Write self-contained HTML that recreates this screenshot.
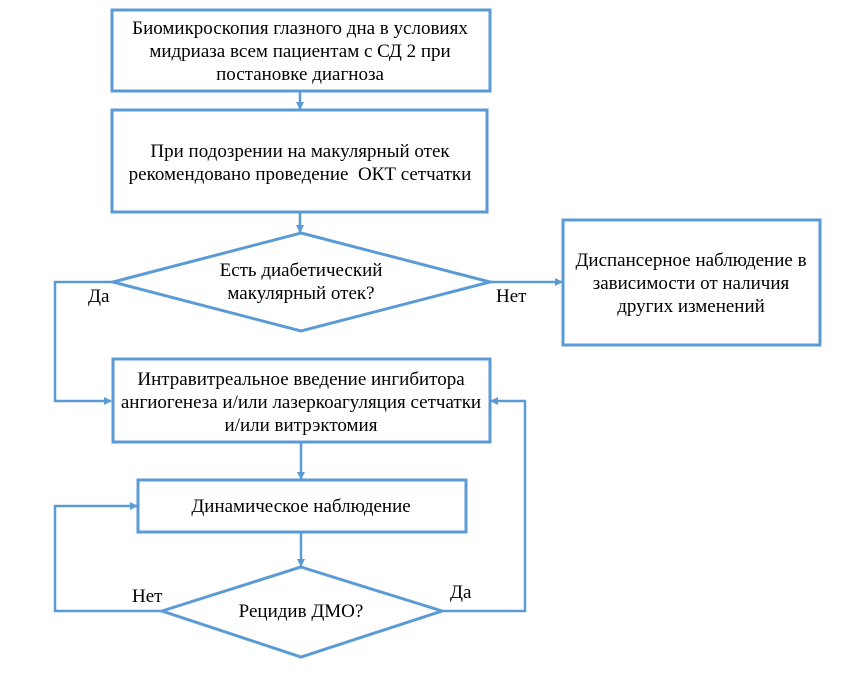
<!DOCTYPE html>
<html><head><meta charset="utf-8"><style>
body{margin:0;background:#fff;width:868px;height:682px;overflow:hidden}
svg text{font-family:"Liberation Serif","Noto Serif CJK SC",serif;font-size:19px;fill:#000;white-space:pre}
</style></head><body>
<svg width="868" height="682" xmlns="http://www.w3.org/2000/svg">
<defs><marker id="a" markerWidth="8" markerHeight="8" refX="7" refY="4" orient="auto" markerUnits="userSpaceOnUse"><path d="M0,0 L8,4 L0,8 z" fill="#5b9bd5"/></marker></defs>
<g fill="none" stroke="#5b9bd5" stroke-width="3">
<rect x="112" y="10" width="378" height="81"/>
<rect x="112" y="110" width="375" height="102"/>
<polygon points="301,233 490,282 301,331 113,282"/>
<rect x="563" y="220" width="257" height="125"/>
<rect x="113" y="359" width="377" height="83"/>
<rect x="138" y="480" width="328" height="52"/>
<polygon points="301,567 442,611 301,657 162,611"/>
</g>
<g fill="none" stroke="#5b9bd5" stroke-width="2.5">
<line x1="300" y1="91" x2="300" y2="109" marker-end="url(#a)"/>
<line x1="300" y1="212" x2="300" y2="232" marker-end="url(#a)"/>
<line x1="490" y1="282" x2="562" y2="282" marker-end="url(#a)"/>
<polyline points="113,282 55,282 55,401 111,401" marker-end="url(#a)"/>
<line x1="301" y1="442" x2="301" y2="479" marker-end="url(#a)"/>
<line x1="301" y1="532" x2="301" y2="566" marker-end="url(#a)"/>
<polyline points="162,611 55,611 55,506 137,506" marker-end="url(#a)"/>
<polyline points="442,611 525,611 525,401 491,401" marker-end="url(#a)"/>
</g>
<g text-anchor="middle">
<text x="300" y="34">Биомикроскопия глазного дна в условиях</text>
<text x="300" y="57">мидриаза всем пациентам с СД 2 при</text>
<text x="300" y="80">постановке диагноза</text>
<text x="300" y="157">При подозрении на макулярный отек</text>
<text x="300" y="180" xml:space="preserve">рекомендовано проведение  ОКТ сетчатки</text>
<text x="301" y="276">Есть диабетический</text>
<text x="301" y="299">макулярный отек?</text>
<text x="691" y="266">Диспансерное наблюдение в</text>
<text x="691" y="289">зависимости от наличия</text>
<text x="691" y="312">других изменений</text>
<text x="301" y="385">Интравитреальное введение ингибитора</text>
<text x="301" y="408">ангиогенеза и/или лазеркоагуляция сетчатки</text>
<text x="301" y="431">и/или витрэктомия</text>
<text x="301" y="512">Динамическое наблюдение</text>
<text x="301" y="617">Рецидив ДМО?</text>
</g>
<text x="88" y="302">Да</text>
<text x="496" y="302">Нет</text>
<text x="132" y="602">Нет</text>
<text x="450" y="598">Да</text>
</svg>
</body></html>
